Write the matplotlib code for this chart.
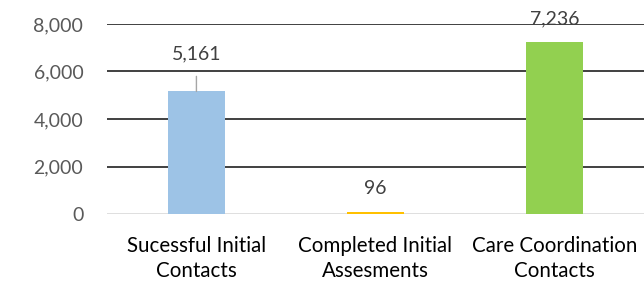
import matplotlib

matplotlib.use("Agg")

import matplotlib.pyplot as plt
from matplotlib.ticker import FuncFormatter

CATEGORIES = ["Sucessful Initial\nContacts", "Completed Initial\nAssesments", "Care Coordination\nContacts"]
VALUES = [5161, 96, 7236]
COLORS = ["#9DC3E6", "#FFC000", "#92D050"]
YTICKS = [0, 2000, 4000, 6000, 8000]

plt.rcParams["font.family"] = ["Lato", "DejaVu Sans"]
FS = 14

fig = plt.figure(figsize=(6.44, 2.82), dpi=100)
ax = fig.add_axes([0.166, 0.241, 0.834, 0.674])

x = list(range(len(CATEGORIES)))
ax.bar(x, VALUES, width=0.32, color=COLORS, zorder=3)

ax.set_xlim(-0.5, len(CATEGORIES) - 0.5)
ax.set_ylim(0, 8000)
ax.set_yticks(YTICKS)
ax.yaxis.set_major_formatter(FuncFormatter(lambda v, _: f"{int(v):,}"))
for y in YTICKS[1:]:
    ax.axhline(y, color="#404040", lw=1.4, zorder=1)
ax.axhline(0, color="#D9D9D9", lw=1.2, zorder=2)

for s in ax.spines.values():
    s.set_visible(False)
ax.tick_params(axis="both", length=0)
ax.tick_params(axis="y", pad=17, labelsize=FS, labelcolor="#595959")
ax.set_xticks(x)
ax.set_xticklabels(CATEGORIES, fontsize=14.8, color="#000000", linespacing=1.3)
ax.tick_params(axis="x", pad=16)

# labels: first one has a leader line
ax.annotate(f"{VALUES[0]:,}", xy=(x[0], VALUES[0]), xytext=(x[0], 6737),
            ha="center", va="center", fontsize=FS, color="#404040",
            arrowprops=dict(arrowstyle="-", color="#A6A6A6", lw=1, shrinkA=8, shrinkB=0),
            zorder=4)
for i in x[1:]:
    ax.annotate(f"{VALUES[i]:,}", xy=(i, VALUES[i]), xytext=(0, 17), textcoords="offset points",
                ha="center", va="center", fontsize=FS, color="#404040", zorder=4)

fig.savefig("out.png", dpi=100)
